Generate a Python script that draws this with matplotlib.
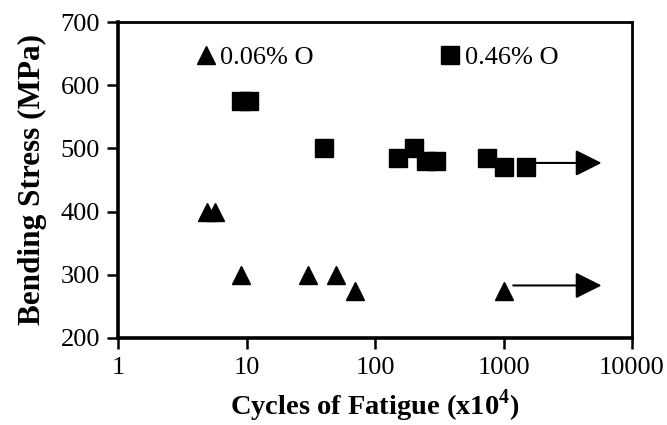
import matplotlib
matplotlib.use('Agg')
import matplotlib.pyplot as plt
from matplotlib.lines import Line2D

# 0.06% O (triangles)
low_cycles = [4.9, 5.7, 9, 30, 50, 70, 1000]
low_stress = [400, 400, 300, 300, 300, 275, 275]

# 0.46% O (squares)
high_cycles = [9, 10.5, 40, 150, 200, 250, 300, 750, 1000, 1500]
high_stress = [575, 575, 500, 485, 500, 480, 480, 485, 470, 470]

# run-outs: (start cycles, end cycles, stress)
runout_start = [1000, 1500]
runout_end = [5800, 5800]
runout_stress = [283, 477]

x_ticks = [1, 10, 100, 1000, 10000]
y_ticks = [200, 300, 400, 500, 600, 700]

plt.rcParams['font.family'] = ['Liberation Serif', 'DejaVu Serif']
plt.rcParams['font.size'] = 19
plt.rcParams['mathtext.fontset'] = 'custom'
plt.rcParams['mathtext.rm'] = 'Liberation Serif'
plt.rcParams['mathtext.bf'] = 'Liberation Serif:bold'

fig = plt.figure(figsize=(6.67, 4.25), dpi=100)
ax = fig.add_axes([0.177, 0.205, 0.7705, 0.743])

ax.plot(low_cycles, low_stress, linestyle='none', marker='^', color='black',
        markersize=13, clip_on=False)
ax.plot(high_cycles, high_stress, linestyle='none', marker='s', color='black',
        markersize=12.5, clip_on=False)

for x0, x1, y in zip(runout_start, runout_end, runout_stress):
    ax.annotate('', xy=(x1, y), xytext=(x0, y),
                arrowprops=dict(arrowstyle='-|>,head_length=0.9,head_width=0.45',
                                color='black', lw=1.5, shrinkA=7, shrinkB=0,
                                mutation_scale=18))

ax.set_xscale('log')
ax.set_xlim(1, 10000)
ax.set_ylim(200, 700)
ax.set_xticks(x_ticks)
ax.set_xticklabels([str(t) for t in x_ticks])
ax.xaxis.set_minor_locator(matplotlib.ticker.NullLocator())
ax.set_yticks(y_ticks)
ax.tick_params(axis='both', direction='out', length=8, width=1.8, pad=5,
               top=False, right=False)
ax.tick_params(axis='x', pad=6)

for side in ['left', 'bottom']:
    ax.spines[side].set_linewidth(2.6)
for side in ['top', 'right']:
    ax.spines[side].set_linewidth(2.0)

ax.set_xlabel('Cycles of Fatigue (x10$^{\\mathbf{4}}$)', fontweight='bold',
              fontsize=20.5, labelpad=6)
ax.set_ylabel('Bending Stress (MPa)', fontweight='bold', fontsize=22.5,
              labelpad=10)

handles = [Line2D([], [], linestyle='none', marker='^', color='black', markersize=13),
           Line2D([], [], linestyle='none', marker='s', color='black', markersize=13)]
ax.legend(handles, ['0.06% O', '0.46% O'], ncol=2, frameon=False,
          loc='upper left', bbox_to_anchor=(0.13, 0.96), handlelength=0.8,
          handletextpad=0.15, columnspacing=4.75, borderaxespad=0)

fig.savefig('out.png', dpi=100)
